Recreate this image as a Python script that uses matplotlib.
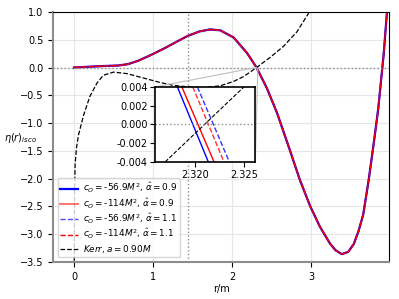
import numpy as np
import matplotlib
matplotlib.use('Agg')
import matplotlib.pyplot as plt
from matplotlib.ticker import FormatStrFormatter
from mpl_toolkits.axes_grid1.inset_locator import mark_inset

# main curves, all four modified curves overlap at this scale
r_mod = [0.0, 0.18, 0.35, 0.56, 0.68, 0.81, 0.98, 1.15, 1.32, 1.44, 1.59, 1.72, 1.85,
         2.02, 2.19, 2.31, 2.44, 2.57, 2.73, 2.86, 2.99, 3.11, 3.24, 3.31, 3.39, 3.47,
         3.54, 3.60, 3.66, 3.73, 3.79, 3.85, 3.92, 3.96, 4.0]
eta_mod = [0.0, 0.013, 0.025, 0.036, 0.06, 0.12, 0.23, 0.35, 0.48, 0.57, 0.65, 0.685, 0.67,
           0.54, 0.26, 0.0, -0.37, -0.82, -1.48, -2.03, -2.50, -2.86, -3.17, -3.29, -3.36, -3.32,
           -3.18, -2.95, -2.65, -2.02, -1.40, -0.75, 0.25, 0.98, 1.6]

r_kerr = [0.002, 0.006, 0.013, 0.03, 0.055, 0.12, 0.20, 0.29, 0.37, 0.50, 0.67, 0.88, 1.09,
          1.25, 1.45, 1.65, 1.85, 2.02, 2.15, 2.31, 2.48, 2.65, 2.82, 2.97, 3.05]
eta_kerr = [-3.6, -2.3, -1.75, -1.45, -1.22, -0.86, -0.52, -0.28, -0.14, -0.083, -0.11, -0.19,
            -0.27, -0.32, -0.35, -0.36, -0.33, -0.25, -0.16, 0.0, 0.18, 0.38, 0.64, 0.98, 1.2]

r_horizon = 1.436

# inset (zoom around the zero crossing)
eta_in = [0.004, -0.004]
r_in_blue = [2.31824, 2.32136]
r_in_red = [2.31869, 2.32194]
r_in_red_d = [2.31979, 2.32294]
r_in_blue_d = [2.32026, 2.32348]
r_in_kerr = [2.3170, 2.32495]
eta_in_kerr = [-0.004, 0.004]

labels = [r'$c_O=$-56.9$M^2$, $\hat{\alpha}=0.9$',
          r'$c_O=$-114$M^2$, $\hat{\alpha}=0.9$',
          r'$c_O=$-56.9$M^2$, $\hat{\alpha}=1.1$',
          r'$c_O=$-114$M^2$, $\hat{\alpha}=1.1$',
          r'$Kerr, a=0.90M$']

plt.rcParams['font.size'] = 7

fig = plt.figure(figsize=(3.99, 2.99), dpi=100)
ax = fig.add_axes([0.133, 0.124, 0.842, 0.836])

ax.plot(r_mod, eta_mod, color='b', ls='-', lw=1.6, label=labels[0])
ax.plot(r_mod, eta_mod, color='r', ls='-', lw=1.3, alpha=0.6, label=labels[1])
ax.plot(r_mod, eta_mod, color='b', ls='--', lw=1.0, alpha=0.7, label=labels[2])
ax.plot(r_mod, eta_mod, color='r', ls='--', lw=1.0, label=labels[3])
ax.plot(r_kerr, eta_kerr, 'k--', lw=0.9, label=labels[4])
ax.axhline(0, color='0.55', ls=':', lw=1.0)
ax.axvline(r_horizon, color='0.55', ls=':', lw=1.0)

ax.set_xlim(-0.266, 3.987)
ax.set_ylim(-3.5, 1.0)
ax.set_xticks([0, 1, 2, 3])
ax.grid(True, color='0.9', lw=0.8)
for s in ['left', 'bottom']:
    ax.spines[s].set_color('0.55')
    ax.spines[s].set_linewidth(1.5)
ax.set_xlabel('r/m', labelpad=2)
ax.set_ylabel(r'$\eta(r)_{isco}$', rotation=0, ha='center', va='center')
ax.yaxis.set_label_coords(-0.097, 0.495)
ax.legend(loc='lower left', fontsize=6.4, handlelength=2.0, labelspacing=0.15,
          borderpad=0.3, handletextpad=0.6, framealpha=0.8)

axins = ax.inset_axes([0.304, 0.40, 0.298, 0.30])
axins.plot(r_in_blue, eta_in, 'b-', lw=1.0)
axins.plot(r_in_red, eta_in, 'r-', lw=1.0)
axins.plot(r_in_red_d, eta_in, 'r--', lw=1.0, alpha=0.8)
axins.plot(r_in_blue_d, eta_in, 'b--', lw=1.0, alpha=0.8)
axins.plot(r_in_kerr, eta_in_kerr, 'k--', lw=0.8)
axins.axhline(0, color='0.55', ls=':', lw=1.0)
axins.set_xlim(2.316, 2.3261)
axins.set_ylim(-0.004, 0.004)
axins.set_xticks([2.320, 2.325])
axins.set_yticks([-0.004, -0.002, 0.0, 0.002, 0.004])
axins.xaxis.set_major_formatter(FormatStrFormatter('%.3f'))
axins.yaxis.set_major_formatter(FormatStrFormatter('%.3f'))
axins.tick_params(labelsize=7, pad=2)
for s in axins.spines.values():
    s.set_linewidth(1.2)
mark_inset(ax, axins, loc1=2, loc2=4, fc='none', ec='0.75', lw=0.8)

fig.savefig('out.png', dpi=100)
